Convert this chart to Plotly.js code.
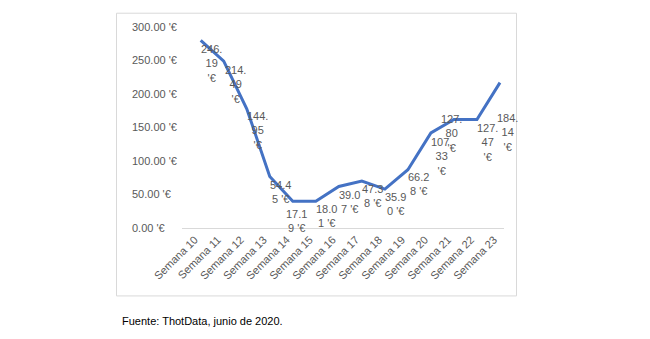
<!DOCTYPE html>
<html>
<head>
<meta charset="utf-8">
<script src="https://cdn.plot.ly/plotly-3.0.1.min.js"></script>
<style>
html,body{margin:0;padding:0;background:#fff;}
#chart{width:650px;height:339px;}
</style>
</head>
<body>
<div id="chart"></div>
<script>
// ---- data ----
const weeks = ["Semana 10","Semana 11","Semana 12","Semana 13","Semana 14","Semana 15","Semana 16","Semana 17","Semana 18","Semana 19","Semana 20","Semana 21","Semana 22","Semana 23"];
const lineValues = [280, 249, 178, 77, 40, 40, 62, 70, 58, 87, 142, 162, 162, 217];
const labelValues = [246.19, 214.49, 144.95, 54.45, 17.19, 18.01, 39.07, 47.38, 35.90, 66.28, 107.33, 127.80, 127.47, 184.14];
const caption = "Fuente: ThotData, junio de 2020.";

// ---- style / layout ----
const W = 650, H = 339;
const M = {l: 128, r: 146, t: 27.3, b: 110.5};
const plotW = W - M.l - M.r, plotH = H - M.t - M.b;
const px2x = p => (p - M.l) / plotW;
const px2y = p => (H - M.b - p) / plotH;
const grey = "#595959";
const font = "Liberation Sans, Arial, sans-serif";

// label offsets (pixels) relative to default placement
const baseXShift = 10.5;
const adjX = {1: 1.5, 4: -7, 11: -13, 13: -2.5};
const adjY = {4: -5, 11: 9, 13: -28};

function labelText(v) {
  const s = v.toFixed(2);
  const first = s.slice(0, 4);
  const rest = s.slice(4);
  return first + "<br>" + (rest.length > 1 ? rest + "<br>'€" : rest + " '€");
}

const annotations = weeks.map((w, i) => ({
  x: w, y: labelValues[i], xref: "x", yref: "y",
  text: labelText(labelValues[i]),
  showarrow: false, xanchor: "center", yanchor: "middle", align: "center",
  xshift: baseXShift + (adjX[i] || 0), yshift: adjY[i] || 0,
  font: {family: font, size: 11, color: grey}
}));
annotations.push({
  text: caption, showarrow: false, xref: "paper", yref: "paper",
  x: px2x(120), y: px2y(322), xanchor: "left", yanchor: "middle",
  font: {family: font, size: 11, color: "#000"}
});

const trace = {
  x: weeks, y: lineValues, type: "scatter", mode: "lines",
  line: {color: "#4472C4", width: 3}, hoverinfo: "skip", showlegend: false
};

const layout = {
  width: W, height: H,
  margin: M,
  paper_bgcolor: "#fff", plot_bgcolor: "rgba(0,0,0,0)",
  showlegend: false,
  xaxis: {
    type: "category", domain: [px2x(181.7), 1],
    range: [-0.825, 13.175],
    showgrid: false, zeroline: false,
    showline: true, linecolor: "#d9d9d9", linewidth: 1,
    ticks: "", tickangle: -45, ticklabelshift: -6,
    tickfont: {family: font, size: 11, color: grey},
    anchor: "y"
  },
  yaxis: {
    range: [0, 300], dtick: 50, tick0: 0,
    tickformat: ".2f", ticksuffix: " '€",
    showgrid: false, zeroline: false, showline: false, ticks: "",
    anchor: "free", position: 0,
    ticklabelposition: "inside", ticklabeloverflow: "allow",
    tickfont: {family: font, size: 11, color: grey}
  },
  shapes: [{
    type: "rect", xref: "paper", yref: "paper",
    x0: px2x(116.5), x1: px2x(516.5), y0: px2y(296.5), y1: px2y(13.5),
    line: {color: "#d9d9d9", width: 1}, fillcolor: "rgba(0,0,0,0)", layer: "below"
  }],
  annotations: annotations
};

Plotly.newPlot("chart", [trace], layout, {displayModeBar: false, staticPlot: true});
</script>
</body>
</html>
